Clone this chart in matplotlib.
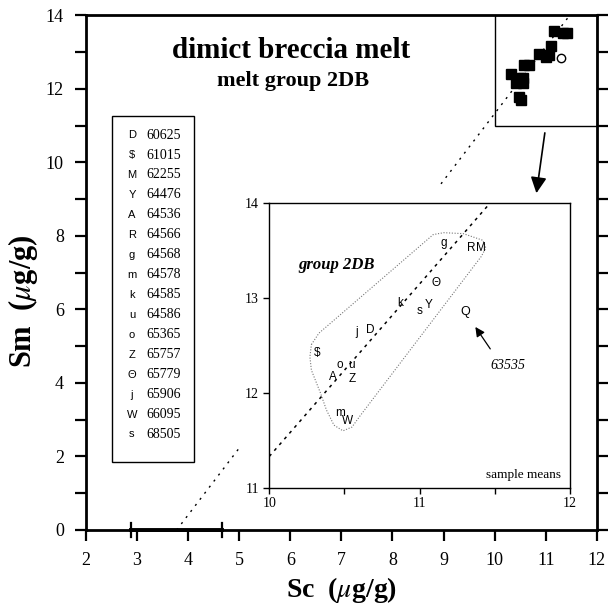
import matplotlib.pyplot as plt
from matplotlib.ticker import MultipleLocator, FixedLocator
from matplotlib.patches import Rectangle, Polygon

plt.rcParams['mathtext.fontset'] = 'stix'
SERIF = 'Liberation Serif'
SANS = 'Liberation Sans'

# sample means, melt group 2DB
samples = ['60625', '61015', '62255', '64476', '64536', '64566', '64568', '64578',
           '64585', '64586', '65365', '65757', '65779', '65906', '66095', '68505']
symbols = ['D', '$', 'M', 'Y', 'A', 'R', 'g', 'm', 'k', 'u', 'o', 'Z', 'Θ', 'j', 'W', 's']
sc = [10.67, 10.32, 11.41, 11.06, 10.42, 11.34, 11.16, 10.47,
      10.87, 10.55, 10.47, 10.55, 11.11, 10.58, 10.52, 11.00]
sm = [12.66, 12.42, 13.53, 12.93, 12.17, 13.53, 13.58, 11.79,
      12.95, 12.29, 12.29, 12.15, 13.16, 12.64, 11.70, 12.86]

# outlier sample
out_id = '63535'
out_sc = 11.30
out_sm = 12.85

# Sm-Sc trend line
slope = 1.82
intercept = -6.87

# hand-drawn envelope around the group
env_sc = [10.28, 10.33, 11.09, 11.16, 11.29, 11.42, 11.44, 11.41, 10.60, 10.55,
          10.49, 10.43, 10.38, 10.34, 10.28, 10.27]
env_sm = [12.51, 12.63, 13.67, 13.69, 13.68, 13.61, 13.53, 13.44, 11.75, 11.64,
          11.60, 11.66, 11.82, 12.00, 12.24, 12.38]


def trend(x):
    return slope * x + intercept


fig = plt.figure(figsize=(6.09, 6.12), dpi=100)
ax = fig.add_axes([0.1412, 0.134, 0.8388, 0.8407])
ax.set_xlim(2, 12)
ax.set_ylim(0, 14)

for s in ax.spines.values():
    s.set_linewidth(2.0)
ax.xaxis.set_major_locator(MultipleLocator(1))
ax.yaxis.set_major_locator(MultipleLocator(2))
ax.yaxis.set_minor_locator(MultipleLocator(1))
ax.tick_params(axis='x', direction='out', length=8, width=1.6, pad=8, labelsize=13)
ax.tick_params(axis='y', which='both', direction='out', length=8, width=1.6,
               left=True, right=True, pad=8, labelsize=13)
for lab in ax.get_xticklabels() + ax.get_yticklabels():
    lab.set_fontfamily(SERIF)

ax.set_xlabel('Sc  ($\\mu$g/g)', fontsize=20, fontweight='bold', family=SERIF, labelpad=4)
ax.text(-0.124, 0.445, 'Sm  ($\\mu$g/g)', transform=ax.transAxes, rotation=90,
        ha='center', va='center', fontsize=22, fontweight='bold', family=SERIF)

# marks on the x axis
ax.plot([2.88, 4.67], [0, 0], color='black', lw=2.8, clip_on=False, zorder=5)
for xm in [2.88, 4.67]:
    ax.plot([xm, xm], [-0.18, 0.18], color='black', lw=1.6, clip_on=False, zorder=5)

# trend line (hidden behind the enlarged view)
x0 = -intercept / slope
ax.plot([x0, 4.98], [trend(x0), trend(4.98)], ls=(0, (1.5, 4)), color='black', lw=1.0)
x1 = (14 - intercept) / slope
ax.plot([8.95, x1], [trend(8.95), 14], ls=(0, (1.5, 4)), color='black', lw=1.0)

# box around the region shown enlarged
ax.add_patch(Rectangle((10, 11), 2, 3, fill=False, lw=1.0, color='black'))
ax.plot(sc, sm, 's', color='black', ms=7)
ax.plot([out_sc], [out_sm], 'o', mfc='white', mec='black', ms=6, mew=1)
ax.annotate('', xy=(10.81, 9.09), xytext=(10.99, 10.88),
            arrowprops=dict(arrowstyle='-|>', mutation_scale=24, lw=1.2, color='black'))

ax.text(0.401, 0.932, 'dimict breccia melt', transform=ax.transAxes, ha='center', va='center',
        fontsize=21, fontweight='bold', family=SERIF)
ax.text(0.405, 0.873, 'melt group 2DB', transform=ax.transAxes, ha='center', va='center',
        fontsize=16, fontweight='bold', family=SERIF)

# symbol key
ax.add_patch(Rectangle((0.0509, 0.1322), 0.1605, 0.6715, transform=ax.transAxes,
                       fill=False, lw=1.0, color='black'))
for i, (sym, sid) in enumerate(zip(symbols, samples)):
    yk = 0.7676 - i * 0.0388
    ax.text(0.090, yk, sym, transform=ax.transAxes, ha='center', va='center',
            fontsize=8, family=SANS)
    ax.text(0.1174, yk, sid, transform=ax.transAxes, ha='left', va='center',
            fontsize=10, family=SERIF)

# enlarged view
ins = fig.add_axes([0.4422, 0.2031, 0.4938, 0.4647])
ins.set_xlim(10, 12)
ins.set_ylim(11, 14)
for s in ins.spines.values():
    s.set_linewidth(1.0)
ins.xaxis.set_major_locator(FixedLocator([10, 11, 12]))
ins.xaxis.set_minor_locator(FixedLocator([10.5, 11.5]))
ins.yaxis.set_major_locator(MultipleLocator(1))
ins.tick_params(which='both', direction='out', length=4, width=1.0, labelsize=10)
ins.tick_params(axis='x', pad=3)
for lab in ins.get_xticklabels() + ins.get_yticklabels():
    lab.set_fontfamily(SERIF)

ins.plot([10, x1], [trend(10), 14], ls=(0, (2, 3)), color='black', lw=1.1)
ins.add_patch(Polygon(list(zip(env_sc, env_sm)), closed=True, fill=False,
                      ls=(0, (1, 1.5)), lw=0.8, color='#777777'))
for sym, x, y in zip(symbols, sc, sm):
    ins.text(x, y, sym, ha='center', va='center', fontsize=8.5, family=SANS)
ins.text(out_sc, out_sm, 'Q', ha='center', va='center', fontsize=9, family=SANS)
ins.annotate('', xy=(11.36, 12.72), xytext=(11.48, 12.44),
             arrowprops=dict(arrowstyle='-|>', mutation_scale=14, lw=0.9, color='black'))
ins.text(11.59, 12.29, out_id, ha='center', va='center', fontsize=10, style='italic', family=SERIF)
ins.text(10.45, 13.35, 'group 2DB', ha='center', va='center', fontsize=12,
         fontweight='bold', style='italic', family=SERIF)
ins.text(11.94, 11.13, 'sample means', ha='right', va='center', fontsize=9.5, family=SERIF)

fig.savefig('out.png', dpi=100)
